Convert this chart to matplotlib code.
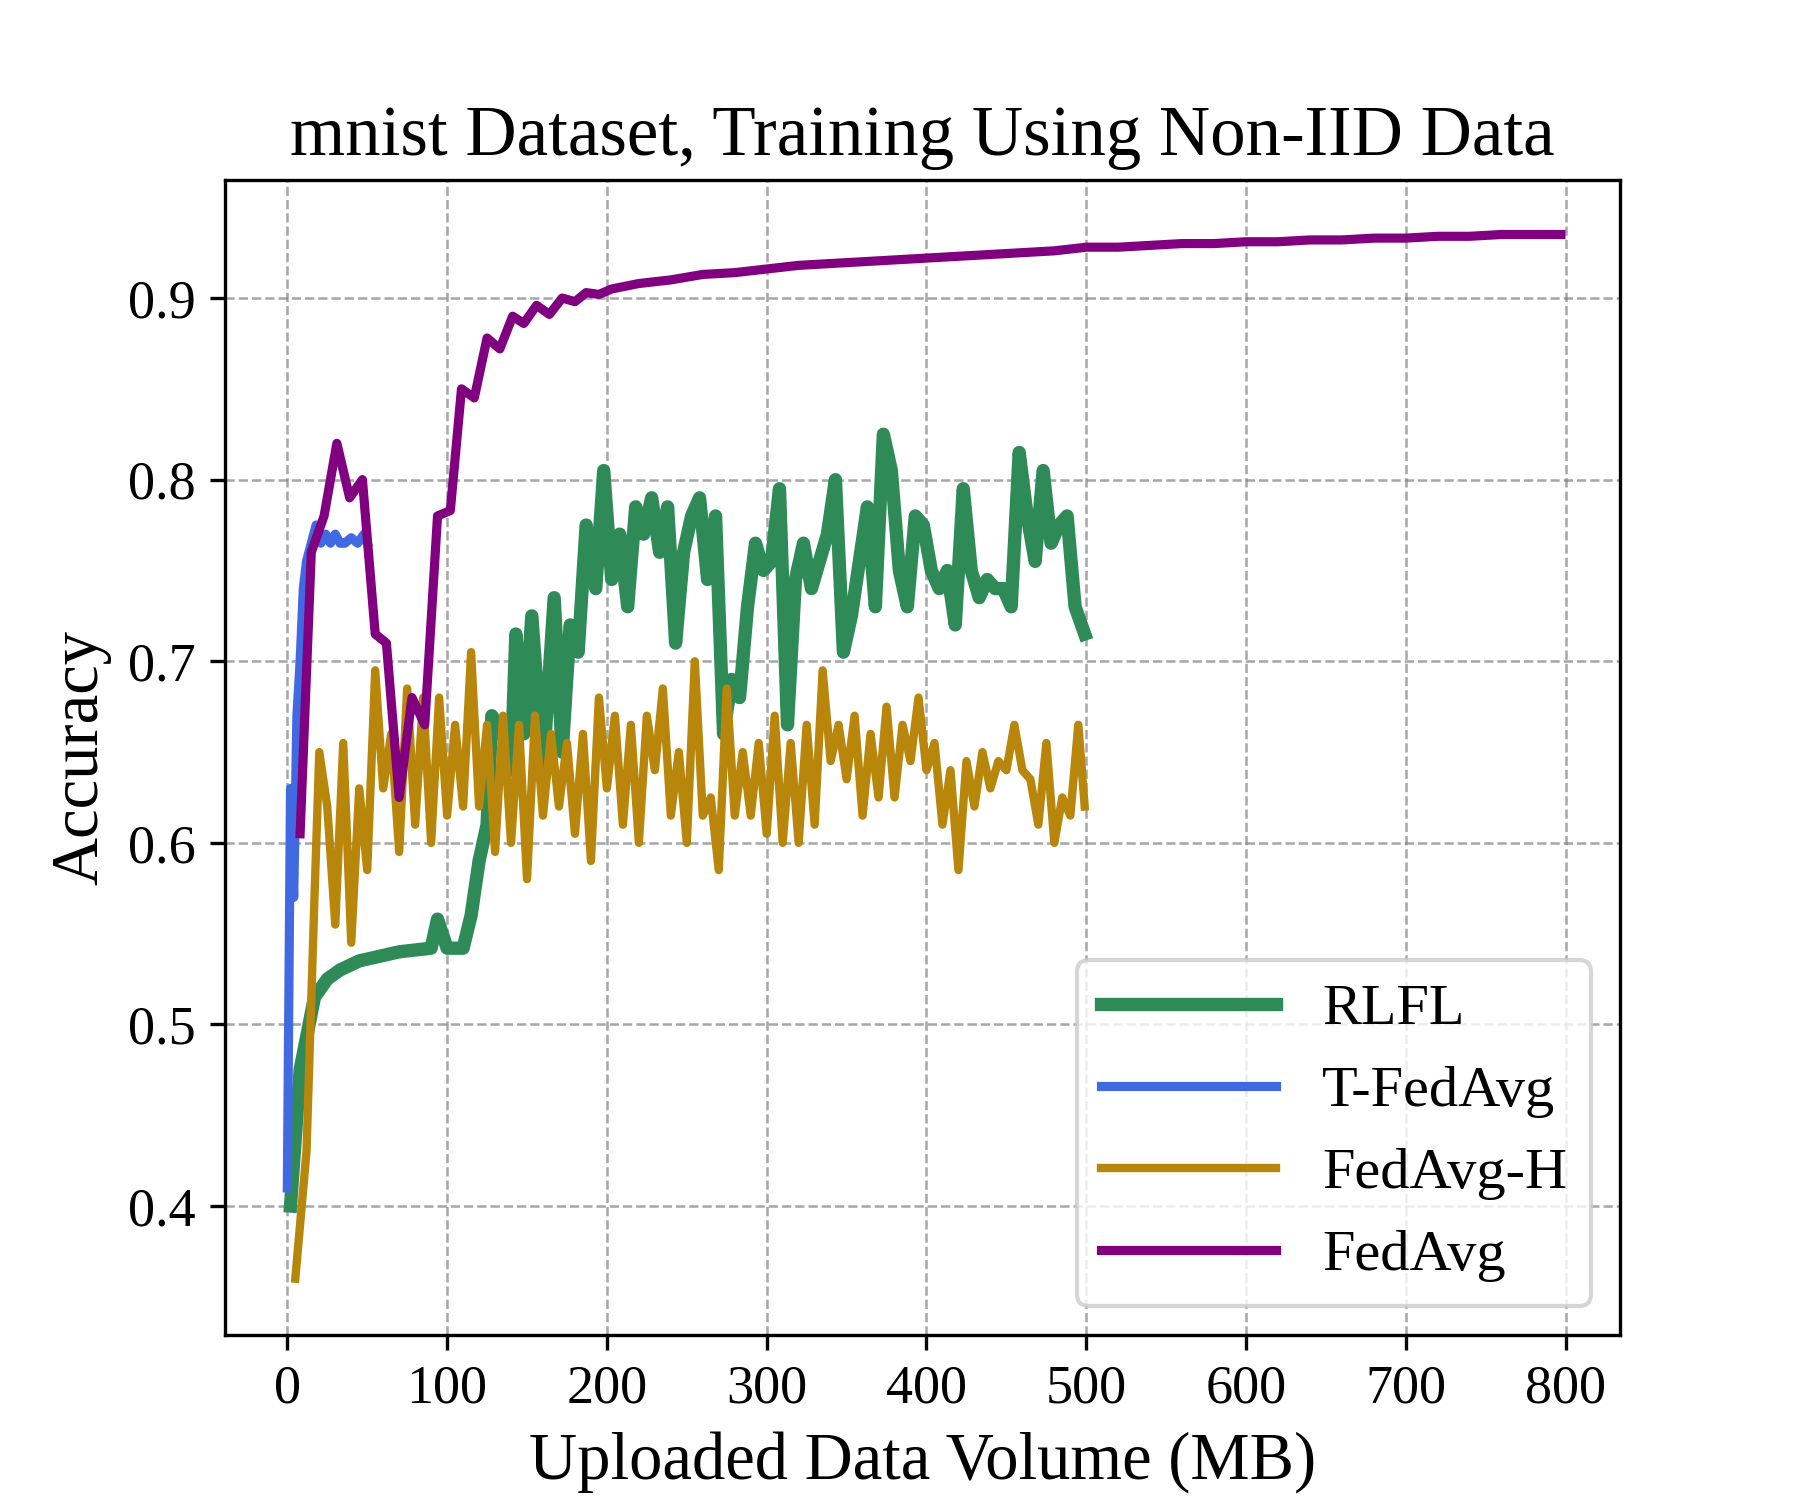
import matplotlib
matplotlib.use('Agg')
import matplotlib.pyplot as plt

plt.rcParams['font.family'] = ['Liberation Serif', 'DejaVu Serif']

# RLFL
rlfl_x = [2, 8, 17, 25, 33, 45, 70, 90, 94, 100, 110, 115, 120, 125, 128, 135, 140, 143, 148, 153,
          160, 167, 172, 177, 182, 187, 193, 198, 203, 208, 213, 218, 223, 228, 233, 238, 243, 248,
          253, 258, 263, 268, 273, 278, 283, 288, 293, 298, 303, 308, 313, 318, 323, 328, 333, 338,
          343, 348, 353, 358, 363, 368, 373, 378, 383, 388, 393, 398, 403, 408, 413, 418, 423, 428,
          433, 438, 443, 448, 453, 458, 463, 468, 473, 478, 483, 488, 493, 499]
rlfl_y = [0.40, 0.475, 0.515, 0.525, 0.53, 0.535, 0.54, 0.542, 0.558, 0.542, 0.542, 0.56, 0.59, 0.61,
          0.67, 0.66, 0.64, 0.715, 0.66, 0.725, 0.64, 0.735, 0.65, 0.72, 0.705, 0.775, 0.74, 0.805,
          0.745, 0.77, 0.73, 0.785, 0.77, 0.79, 0.76, 0.785, 0.71, 0.76, 0.78, 0.79, 0.745, 0.78,
          0.66, 0.69, 0.68, 0.73, 0.765, 0.75, 0.755, 0.795, 0.665, 0.745, 0.765, 0.74, 0.755, 0.77,
          0.80, 0.705, 0.725, 0.755, 0.785, 0.73, 0.825, 0.805, 0.75, 0.73, 0.78, 0.775, 0.75, 0.74,
          0.75, 0.72, 0.795, 0.75, 0.735, 0.745, 0.74, 0.74, 0.73, 0.815, 0.78, 0.755, 0.805, 0.765,
          0.775, 0.78, 0.73, 0.715]

# T-FedAvg
tfed_x = [0, 2, 4, 6, 8, 10, 12, 15, 18, 21, 24, 27, 30, 33, 36, 40, 44, 48, 50]
tfed_y = [0.41, 0.63, 0.57, 0.67, 0.70, 0.74, 0.755, 0.765, 0.775, 0.765, 0.77, 0.765, 0.77,
          0.765, 0.765, 0.768, 0.765, 0.77, 0.765]

# FedAvg-H
fedh_x = [5, 12, 17] + list(range(20, 500, 5)) + [499]
fedh_y = [0.36, 0.43, 0.57, 0.65, 0.62, 0.555, 0.655, 0.545, 0.63, 0.585, 0.695, 0.63, 0.66, 0.595,
          0.685, 0.61, 0.68, 0.60, 0.68, 0.615, 0.665, 0.62, 0.705, 0.62, 0.665, 0.595, 0.67, 0.60,
          0.665, 0.58, 0.67, 0.615, 0.66, 0.62, 0.655, 0.605, 0.66, 0.59, 0.68, 0.63, 0.67, 0.61,
          0.665, 0.60, 0.67, 0.64, 0.685, 0.615, 0.65, 0.60, 0.70, 0.615, 0.625, 0.585, 0.685, 0.615,
          0.65, 0.615, 0.655, 0.605, 0.67, 0.60, 0.655, 0.60, 0.665, 0.61, 0.695, 0.645, 0.665,
          0.635, 0.67, 0.615, 0.66, 0.625, 0.675, 0.625, 0.665, 0.645, 0.68, 0.64, 0.655, 0.61, 0.64,
          0.585, 0.645, 0.62, 0.65, 0.63, 0.645, 0.64, 0.665, 0.64, 0.635, 0.61, 0.655, 0.60, 0.625,
          0.615, 0.665, 0.62]

# FedAvg
fed_x = [8, 15, 23, 31, 39, 47, 55, 62, 70, 78, 86, 94, 102, 109, 117, 125, 133, 141, 148, 156,
         164, 172, 180, 187, 195, 203, 220, 240, 260, 280, 300, 320, 340, 360, 380, 400, 420, 440,
         460, 480, 500, 520, 540, 560, 580, 600, 620, 640, 660, 680, 700, 720, 740, 760, 780, 797]
fed_y = [0.605, 0.76, 0.78, 0.82, 0.79, 0.80, 0.715, 0.71, 0.625, 0.68, 0.665, 0.78, 0.783, 0.85,
         0.845, 0.878, 0.872, 0.89, 0.886, 0.896, 0.891, 0.90, 0.898, 0.903, 0.902, 0.905, 0.908,
         0.91, 0.913, 0.914, 0.916, 0.918, 0.919, 0.920, 0.921, 0.922, 0.923, 0.924, 0.925, 0.926,
         0.928, 0.928, 0.929, 0.930, 0.930, 0.931, 0.931, 0.932, 0.932, 0.933, 0.933, 0.934,
         0.934, 0.935, 0.935, 0.935]

fig, ax = plt.subplots(figsize=(6, 5), dpi=300)
ax.plot(rlfl_x, rlfl_y, color='seagreen', lw=3.2, label='RLFL', zorder=3)
ax.plot(tfed_x, tfed_y, color='royalblue', lw=2.2, label='T-FedAvg', zorder=4)
ax.plot(fedh_x, fedh_y, color='darkgoldenrod', lw=2.0, label='FedAvg-H', zorder=3)
ax.plot(fed_x, fed_y, color='purple', lw=2.2, label='FedAvg', zorder=4)

ax.set_xlim(-39, 834)
ax.set_ylim(0.329, 0.965)
ax.set_xticks(range(0, 801, 100))
ax.set_yticks([0.4, 0.5, 0.6, 0.7, 0.8, 0.9])
ax.tick_params(labelsize=13)
ax.grid(True, linestyle='--', color='gray', alpha=0.7, lw=0.6)
ax.set_xlabel('Uploaded Data Volume (MB)', fontsize=16)
ax.set_ylabel('Accuracy', fontsize=16)
ax.set_title('mnist Dataset, Training Using Non-IID Data', fontsize=17)
ax.legend(loc='lower right', fontsize=14, handlelength=3)
fig.savefig('out.png')
